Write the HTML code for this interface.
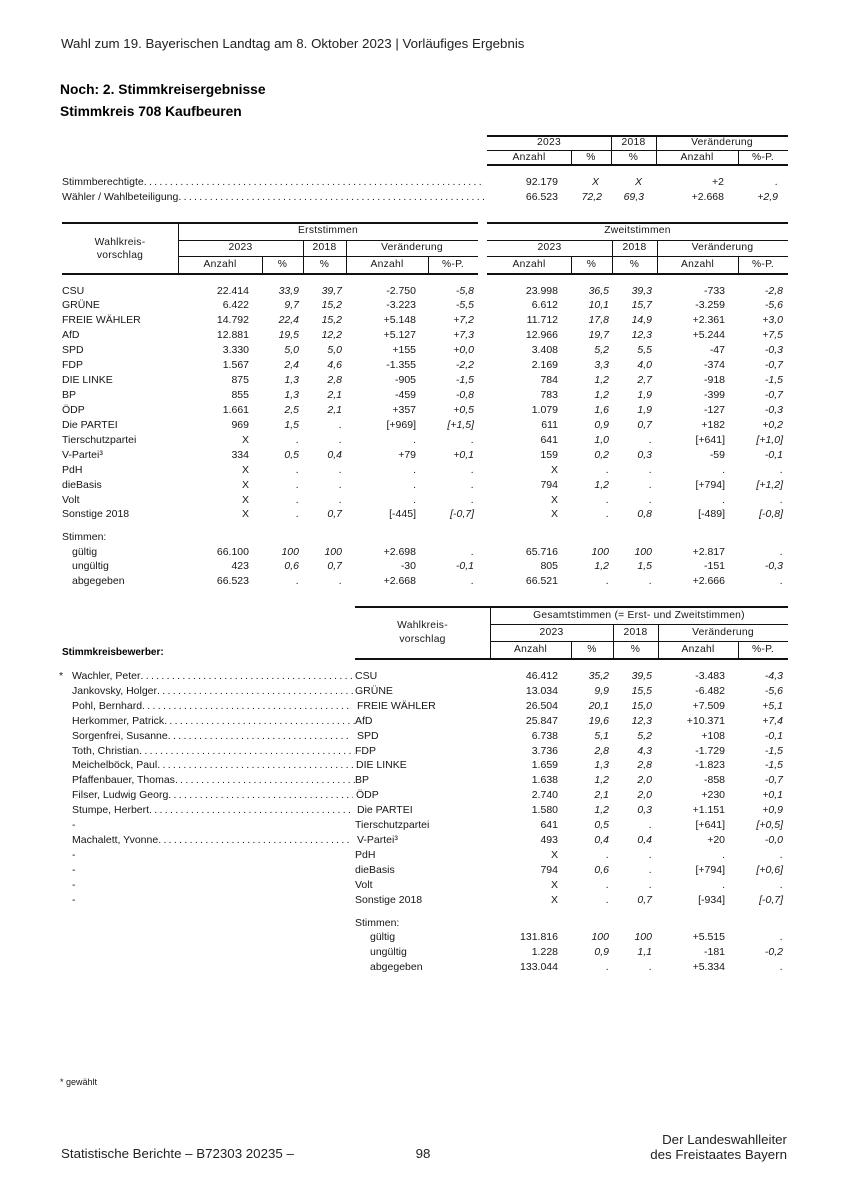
<!DOCTYPE html>
<html><head><meta charset="utf-8">
<style>
body{margin:0;width:848px;height:1200px;position:relative;background:#fff;font-family:"Liberation Sans",Arial,sans-serif;color:#161616;overflow:hidden}
.a{position:absolute;white-space:nowrap}
.h{position:absolute;background:#111}
.hc{position:absolute;text-align:center;font-size:10.3px;line-height:14px;letter-spacing:0.25px;white-space:nowrap}
.row{position:absolute;left:0;width:848px;height:14px;line-height:14px;font-size:10.5px}
.row span{position:absolute;top:0;white-space:nowrap}
.i{font-style:italic}
.l0{left:62px}.l1{left:72px}.p0{left:355px}.p1{left:370px}
.e1{right:599px}.e2{right:549px}.e3{right:506px}.e4{right:432px}.e5{right:374px}
.z1{right:290px}.z2{right:239px}.z3{right:196px}.z4{right:123px}.z5{right:65px}
.t1{right:290px}.t2{right:246px}.t3{right:204px}.t4{right:124px}.t5{right:70px}
.n{overflow:hidden}
.dd{letter-spacing:-0.3px}
</style></head><body>

<div class="a" style="left:61px;top:36.7px;font-size:13.3px;line-height:13.3px;color:#222">Wahl zum 19. Bayerischen Landtag am 8. Oktober 2023 | Vorläufiges Ergebnis</div>
<div class="a" style="left:60px;top:83px;font-size:13.8px;line-height:14px;font-weight:bold;color:#000">Noch: 2. Stimmkreisergebnisse</div>
<div class="a" style="left:60px;top:105px;font-size:13.8px;line-height:14px;font-weight:bold;color:#000">Stimmkreis 708 Kaufbeuren</div>

<!-- top table -->
<div class="h" style="left:487px;top:134.5px;width:301px;height:2px"></div>
<div class="h" style="left:487px;top:150px;width:301px;height:1px"></div>
<div class="h" style="left:487px;top:164px;width:301px;height:2px"></div>
<div class="h" style="left:611px;top:136px;width:1px;height:28px"></div>
<div class="h" style="left:656px;top:136px;width:1px;height:28px"></div>
<div class="h" style="left:571px;top:151px;width:1px;height:13px"></div>
<div class="h" style="left:738px;top:151px;width:1px;height:13px"></div>
<div class="hc" style="left:487px;width:124px;top:136px">2023</div>
<div class="hc" style="left:611px;width:45px;top:136px">2018</div>
<div class="hc" style="left:656px;width:132px;top:136px">Veränderung</div>
<div class="hc" style="left:487px;width:84px;top:150.5px">Anzahl</div>
<div class="hc" style="left:571px;width:40px;top:150.5px">%</div>
<div class="hc" style="left:611px;width:45px;top:150.5px">%</div>
<div class="hc" style="left:656px;width:82px;top:150.5px">Anzahl</div>
<div class="hc" style="left:738px;width:50px;top:150.5px">%-P.</div>

<div class="row" style="top:175px"><span class="l0 n" style="width:422px">Stimmberechtigte <span class="dd">. . . . . . . . . . . . . . . . . . . . . . . . . . . . . . . . . . . . . . . . . . . . . . . . . . . . . . . . . . . . . . . . . . . . . . . . . . . . . . . . . . . . . .</span></span><span class="t1">92.179</span><span class="i" style="left:592px">X</span><span class="i" style="left:635px">X</span><span class="t4">+2</span><span class="t5 i">.</span></div>
<div class="row" style="top:190px"><span class="l0 n" style="width:422px">Wähler / Wahlbeteiligung <span class="dd">. . . . . . . . . . . . . . . . . . . . . . . . . . . . . . . . . . . . . . . . . . . . . . . . . . . . . . . . . . . . . . . . . . . . . . . . . . . . . . . . . . . . . .</span></span><span class="t1">66.523</span><span class="t2 i">72,2</span><span class="t3 i">69,3</span><span class="t4">+2.668</span><span class="t5 i">+2,9</span></div>

<!-- Erst/Zweit table header -->
<div class="h" style="left:62px;top:222px;width:416px;height:2px"></div>
<div class="h" style="left:487px;top:222px;width:301px;height:2px"></div>
<div class="h" style="left:178px;top:239.5px;width:300px;height:1px"></div>
<div class="h" style="left:487px;top:239.5px;width:301px;height:1px"></div>
<div class="h" style="left:178px;top:256px;width:300px;height:1px"></div>
<div class="h" style="left:487px;top:256px;width:301px;height:1px"></div>
<div class="h" style="left:62px;top:273px;width:416px;height:2px"></div>
<div class="h" style="left:487px;top:273px;width:301px;height:2px"></div>
<div class="h" style="left:178px;top:224px;width:1px;height:49px"></div>
<div class="h" style="left:303px;top:240px;width:1px;height:33px"></div>
<div class="h" style="left:346px;top:240px;width:1px;height:33px"></div>
<div class="h" style="left:262px;top:257px;width:1px;height:16px"></div>
<div class="h" style="left:428px;top:257px;width:1px;height:16px"></div>
<div class="h" style="left:612px;top:240px;width:1px;height:33px"></div>
<div class="h" style="left:657px;top:240px;width:1px;height:33px"></div>
<div class="h" style="left:571px;top:257px;width:1px;height:16px"></div>
<div class="h" style="left:738px;top:257px;width:1px;height:16px"></div>

<div class="hc" style="left:62px;width:116px;top:235.5px;line-height:13px">Wahlkreis-<br>vorschlag</div>
<div class="hc" style="left:178px;width:300px;top:224px">Erststimmen</div>
<div class="hc" style="left:178px;width:125px;top:240.5px">2023</div>
<div class="hc" style="left:303px;width:43px;top:240.5px">2018</div>
<div class="hc" style="left:346px;width:132px;top:240.5px">Veränderung</div>
<div class="hc" style="left:178px;width:84px;top:257.5px">Anzahl</div>
<div class="hc" style="left:262px;width:41px;top:257.5px">%</div>
<div class="hc" style="left:303px;width:43px;top:257.5px">%</div>
<div class="hc" style="left:346px;width:82px;top:257.5px">Anzahl</div>
<div class="hc" style="left:428px;width:50px;top:257.5px">%-P.</div>
<div class="hc" style="left:487px;width:301px;top:224px">Zweitstimmen</div>
<div class="hc" style="left:487px;width:125px;top:240.5px">2023</div>
<div class="hc" style="left:612px;width:45px;top:240.5px">2018</div>
<div class="hc" style="left:657px;width:131px;top:240.5px">Veränderung</div>
<div class="hc" style="left:487px;width:84px;top:257.5px">Anzahl</div>
<div class="hc" style="left:571px;width:41px;top:257.5px">%</div>
<div class="hc" style="left:612px;width:45px;top:257.5px">%</div>
<div class="hc" style="left:657px;width:81px;top:257.5px">Anzahl</div>
<div class="hc" style="left:738px;width:50px;top:257.5px">%-P.</div>

<!-- Erst/Zweit rows -->
<div class="row" style="top:283.5px"><span class="l0">CSU</span><span class="e1">22.414</span><span class="e2 i">33,9</span><span class="e3 i">39,7</span><span class="e4">-2.750</span><span class="e5 i">-5,8</span><span class="z1">23.998</span><span class="z2 i">36,5</span><span class="z3 i">39,3</span><span class="z4">-733</span><span class="z5 i">-2,8</span></div>
<div class="row" style="top:298.4px"><span class="l0">GRÜNE</span><span class="e1">6.422</span><span class="e2 i">9,7</span><span class="e3 i">15,2</span><span class="e4">-3.223</span><span class="e5 i">-5,5</span><span class="z1">6.612</span><span class="z2 i">10,1</span><span class="z3 i">15,7</span><span class="z4">-3.259</span><span class="z5 i">-5,6</span></div>
<div class="row" style="top:313.4px"><span class="l0">FREIE WÄHLER</span><span class="e1">14.792</span><span class="e2 i">22,4</span><span class="e3 i">15,2</span><span class="e4">+5.148</span><span class="e5 i">+7,2</span><span class="z1">11.712</span><span class="z2 i">17,8</span><span class="z3 i">14,9</span><span class="z4">+2.361</span><span class="z5 i">+3,0</span></div>
<div class="row" style="top:328.3px"><span class="l0">AfD</span><span class="e1">12.881</span><span class="e2 i">19,5</span><span class="e3 i">12,2</span><span class="e4">+5.127</span><span class="e5 i">+7,3</span><span class="z1">12.966</span><span class="z2 i">19,7</span><span class="z3 i">12,3</span><span class="z4">+5.244</span><span class="z5 i">+7,5</span></div>
<div class="row" style="top:343.2px"><span class="l0">SPD</span><span class="e1">3.330</span><span class="e2 i">5,0</span><span class="e3 i">5,0</span><span class="e4">+155</span><span class="e5 i">+0,0</span><span class="z1">3.408</span><span class="z2 i">5,2</span><span class="z3 i">5,5</span><span class="z4">-47</span><span class="z5 i">-0,3</span></div>
<div class="row" style="top:358.1px"><span class="l0">FDP</span><span class="e1">1.567</span><span class="e2 i">2,4</span><span class="e3 i">4,6</span><span class="e4">-1.355</span><span class="e5 i">-2,2</span><span class="z1">2.169</span><span class="z2 i">3,3</span><span class="z3 i">4,0</span><span class="z4">-374</span><span class="z5 i">-0,7</span></div>
<div class="row" style="top:373.1px"><span class="l0">DIE LINKE</span><span class="e1">875</span><span class="e2 i">1,3</span><span class="e3 i">2,8</span><span class="e4">-905</span><span class="e5 i">-1,5</span><span class="z1">784</span><span class="z2 i">1,2</span><span class="z3 i">2,7</span><span class="z4">-918</span><span class="z5 i">-1,5</span></div>
<div class="row" style="top:388px"><span class="l0">BP</span><span class="e1">855</span><span class="e2 i">1,3</span><span class="e3 i">2,1</span><span class="e4">-459</span><span class="e5 i">-0,8</span><span class="z1">783</span><span class="z2 i">1,2</span><span class="z3 i">1,9</span><span class="z4">-399</span><span class="z5 i">-0,7</span></div>
<div class="row" style="top:402.9px"><span class="l0">ÖDP</span><span class="e1">1.661</span><span class="e2 i">2,5</span><span class="e3 i">2,1</span><span class="e4">+357</span><span class="e5 i">+0,5</span><span class="z1">1.079</span><span class="z2 i">1,6</span><span class="z3 i">1,9</span><span class="z4">-127</span><span class="z5 i">-0,3</span></div>
<div class="row" style="top:417.9px"><span class="l0">Die PARTEI</span><span class="e1">969</span><span class="e2 i">1,5</span><span class="e3 i">.</span><span class="e4">[+969]</span><span class="e5 i">[+1,5]</span><span class="z1">611</span><span class="z2 i">0,9</span><span class="z3 i">0,7</span><span class="z4">+182</span><span class="z5 i">+0,2</span></div>
<div class="row" style="top:432.8px"><span class="l0">Tierschutzpartei</span><span class="e1">X</span><span class="e2 i">.</span><span class="e3 i">.</span><span class="e4">.</span><span class="e5 i">.</span><span class="z1">641</span><span class="z2 i">1,0</span><span class="z3 i">.</span><span class="z4">[+641]</span><span class="z5 i">[+1,0]</span></div>
<div class="row" style="top:447.7px"><span class="l0">V-Partei³</span><span class="e1">334</span><span class="e2 i">0,5</span><span class="e3 i">0,4</span><span class="e4">+79</span><span class="e5 i">+0,1</span><span class="z1">159</span><span class="z2 i">0,2</span><span class="z3 i">0,3</span><span class="z4">-59</span><span class="z5 i">-0,1</span></div>
<div class="row" style="top:462.7px"><span class="l0">PdH</span><span class="e1">X</span><span class="e2 i">.</span><span class="e3 i">.</span><span class="e4">.</span><span class="e5 i">.</span><span class="z1">X</span><span class="z2 i">.</span><span class="z3 i">.</span><span class="z4">.</span><span class="z5 i">.</span></div>
<div class="row" style="top:477.6px"><span class="l0">dieBasis</span><span class="e1">X</span><span class="e2 i">.</span><span class="e3 i">.</span><span class="e4">.</span><span class="e5 i">.</span><span class="z1">794</span><span class="z2 i">1,2</span><span class="z3 i">.</span><span class="z4">[+794]</span><span class="z5 i">[+1,2]</span></div>
<div class="row" style="top:492.5px"><span class="l0">Volt</span><span class="e1">X</span><span class="e2 i">.</span><span class="e3 i">.</span><span class="e4">.</span><span class="e5 i">.</span><span class="z1">X</span><span class="z2 i">.</span><span class="z3 i">.</span><span class="z4">.</span><span class="z5 i">.</span></div>
<div class="row" style="top:507.4px"><span class="l0">Sonstige 2018</span><span class="e1">X</span><span class="e2 i">.</span><span class="e3 i">0,7</span><span class="e4">[-445]</span><span class="e5 i">[-0,7]</span><span class="z1">X</span><span class="z2 i">.</span><span class="z3 i">0,8</span><span class="z4">[-489]</span><span class="z5 i">[-0,8]</span></div>
<div class="row" style="top:530px"><span class="l0">Stimmen:</span></div>
<div class="row" style="top:544.7px"><span class="l1">gültig</span><span class="e1">66.100</span><span class="e2 i">100</span><span class="e3 i">100</span><span class="e4">+2.698</span><span class="e5 i">.</span><span class="z1">65.716</span><span class="z2 i">100</span><span class="z3 i">100</span><span class="z4">+2.817</span><span class="z5 i">.</span></div>
<div class="row" style="top:559.3px"><span class="l1">ungültig</span><span class="e1">423</span><span class="e2 i">0,6</span><span class="e3 i">0,7</span><span class="e4">-30</span><span class="e5 i">-0,1</span><span class="z1">805</span><span class="z2 i">1,2</span><span class="z3 i">1,5</span><span class="z4">-151</span><span class="z5 i">-0,3</span></div>
<div class="row" style="top:574px"><span class="l1">abgegeben</span><span class="e1">66.523</span><span class="e2 i">.</span><span class="e3 i">.</span><span class="e4">+2.668</span><span class="e5 i">.</span><span class="z1">66.521</span><span class="z2 i">.</span><span class="z3 i">.</span><span class="z4">+2.666</span><span class="z5 i">.</span></div>

<!-- bottom table header -->
<div class="h" style="left:355px;top:606px;width:433px;height:2px"></div>
<div class="h" style="left:490px;top:624px;width:298px;height:1px"></div>
<div class="h" style="left:490px;top:641px;width:298px;height:1px"></div>
<div class="h" style="left:355px;top:658px;width:433px;height:2px"></div>
<div class="h" style="left:490px;top:608px;width:1px;height:50px"></div>
<div class="h" style="left:613px;top:625px;width:1px;height:33px"></div>
<div class="h" style="left:658px;top:625px;width:1px;height:33px"></div>
<div class="h" style="left:571px;top:642px;width:1px;height:16px"></div>
<div class="h" style="left:738px;top:642px;width:1px;height:16px"></div>
<div class="hc" style="left:355px;width:135px;top:619px">Wahlkreis-<br>vorschlag</div>
<div class="hc" style="left:490px;width:298px;top:609px">Gesamtstimmen (= Erst- und Zweitstimmen)</div>
<div class="hc" style="left:490px;width:123px;top:626px">2023</div>
<div class="hc" style="left:613px;width:45px;top:626px">2018</div>
<div class="hc" style="left:658px;width:130px;top:626px">Veränderung</div>
<div class="hc" style="left:490px;width:81px;top:643px">Anzahl</div>
<div class="hc" style="left:571px;width:42px;top:643px">%</div>
<div class="hc" style="left:613px;width:45px;top:643px">%</div>
<div class="hc" style="left:658px;width:80px;top:643px">Anzahl</div>
<div class="hc" style="left:738px;width:50px;top:643px">%-P.</div>
<div class="a" style="left:62px;top:646px;font-size:10px;line-height:14px;font-weight:bold;color:#000">Stimmkreisbewerber:</div>

<!-- bottom rows -->
<div class="row" style="top:669px"><span style="left:59px">*</span><span class="l1 n" style="width:283px">Wachler, Peter <span class="dd">. . . . . . . . . . . . . . . . . . . . . . . . . . . . . . . . . . . . . . . . . . . . . . . . . . . . . .</span></span><span class="p0">CSU</span><span class="z1">46.412</span><span class="z2 i">35,2</span><span class="z3 i">39,5</span><span class="z4">-3.483</span><span class="z5 i">-4,3</span></div>
<div class="row" style="top:684px"><span class="l1 n" style="width:283px">Jankovsky, Holger <span class="dd">. . . . . . . . . . . . . . . . . . . . . . . . . . . . . . . . . . . . . . . . . . . . . . . . . . . . . .</span></span><span class="p0">GRÜNE</span><span class="z1">13.034</span><span class="z2 i">9,9</span><span class="z3 i">15,5</span><span class="z4">-6.482</span><span class="z5 i">-5,6</span></div>
<div class="row" style="top:699px"><span class="l1 n" style="width:280px">Pohl, Bernhard <span class="dd">. . . . . . . . . . . . . . . . . . . . . . . . . . . . . . . . . . . . . . . . . . . . . . . . . . . . . .</span></span><span style="left:357px">FREIE WÄHLER</span><span class="z1">26.504</span><span class="z2 i">20,1</span><span class="z3 i">15,0</span><span class="z4">+7.509</span><span class="z5 i">+5,1</span></div>
<div class="row" style="top:714px"><span class="l1 n" style="width:283px">Herkommer, Patrick <span class="dd">. . . . . . . . . . . . . . . . . . . . . . . . . . . . . . . . . . . . . . . . . . . . . . . . . . . . . .</span></span><span class="p0">AfD</span><span class="z1">25.847</span><span class="z2 i">19,6</span><span class="z3 i">12,3</span><span class="z4">+10.371</span><span class="z5 i">+7,4</span></div>
<div class="row" style="top:728.6px"><span class="l1 n" style="width:280px">Sorgenfrei, Susanne <span class="dd">. . . . . . . . . . . . . . . . . . . . . . . . . . . . . . . . . . . . . . . . . . . . . . . . . . . . . .</span></span><span style="left:357px">SPD</span><span class="z1">6.738</span><span class="z2 i">5,1</span><span class="z3 i">5,2</span><span class="z4">+108</span><span class="z5 i">-0,1</span></div>
<div class="row" style="top:743.5px"><span class="l1 n" style="width:283px">Toth, Christian <span class="dd">. . . . . . . . . . . . . . . . . . . . . . . . . . . . . . . . . . . . . . . . . . . . . . . . . . . . . .</span></span><span class="p0">FDP</span><span class="z1">3.736</span><span class="z2 i">2,8</span><span class="z3 i">4,3</span><span class="z4">-1.729</span><span class="z5 i">-1,5</span></div>
<div class="row" style="top:758.4px"><span class="l1 n" style="width:281px">Meichelböck, Paul <span class="dd">. . . . . . . . . . . . . . . . . . . . . . . . . . . . . . . . . . . . . . . . . . . . . . . . . . . . . .</span></span><span style="left:356px">DIE LINKE</span><span class="z1">1.659</span><span class="z2 i">1,3</span><span class="z3 i">2,8</span><span class="z4">-1.823</span><span class="z5 i">-1,5</span></div>
<div class="row" style="top:773.3px"><span class="l1 n" style="width:283px">Pfaffenbauer, Thomas <span class="dd">. . . . . . . . . . . . . . . . . . . . . . . . . . . . . . . . . . . . . . . . . . . . . . . . . . . . . .</span></span><span class="p0">BP</span><span class="z1">1.638</span><span class="z2 i">1,2</span><span class="z3 i">2,0</span><span class="z4">-858</span><span class="z5 i">-0,7</span></div>
<div class="row" style="top:788.2px"><span class="l1 n" style="width:281px">Filser, Ludwig Georg <span class="dd">. . . . . . . . . . . . . . . . . . . . . . . . . . . . . . . . . . . . . . . . . . . . . . . . . . . . . .</span></span><span style="left:356px">ÖDP</span><span class="z1">2.740</span><span class="z2 i">2,1</span><span class="z3 i">2,0</span><span class="z4">+230</span><span class="z5 i">+0,1</span></div>
<div class="row" style="top:803.1px"><span class="l1 n" style="width:280px">Stumpe, Herbert <span class="dd">. . . . . . . . . . . . . . . . . . . . . . . . . . . . . . . . . . . . . . . . . . . . . . . . . . . . . .</span></span><span style="left:357px">Die PARTEI</span><span class="z1">1.580</span><span class="z2 i">1,2</span><span class="z3 i">0,3</span><span class="z4">+1.151</span><span class="z5 i">+0,9</span></div>
<div class="row" style="top:818px"><span class="l1">-</span><span class="p0">Tierschutzpartei</span><span class="z1">641</span><span class="z2 i">0,5</span><span class="z3 i">.</span><span class="z4">[+641]</span><span class="z5 i">[+0,5]</span></div>
<div class="row" style="top:832.9px"><span class="l1 n" style="width:280px">Machalett, Yvonne <span class="dd">. . . . . . . . . . . . . . . . . . . . . . . . . . . . . . . . . . . . . . . . . . . . . . . . . . . . . .</span></span><span style="left:357px">V-Partei³</span><span class="z1">493</span><span class="z2 i">0,4</span><span class="z3 i">0,4</span><span class="z4">+20</span><span class="z5 i">-0,0</span></div>
<div class="row" style="top:847.8px"><span class="l1">-</span><span class="p0">PdH</span><span class="z1">X</span><span class="z2 i">.</span><span class="z3 i">.</span><span class="z4">.</span><span class="z5 i">.</span></div>
<div class="row" style="top:862.7px"><span class="l1">-</span><span class="p0">dieBasis</span><span class="z1">794</span><span class="z2 i">0,6</span><span class="z3 i">.</span><span class="z4">[+794]</span><span class="z5 i">[+0,6]</span></div>
<div class="row" style="top:877.6px"><span class="l1">-</span><span class="p0">Volt</span><span class="z1">X</span><span class="z2 i">.</span><span class="z3 i">.</span><span class="z4">.</span><span class="z5 i">.</span></div>
<div class="row" style="top:892.5px"><span class="l1">-</span><span class="p0">Sonstige 2018</span><span class="z1">X</span><span class="z2 i">.</span><span class="z3 i">0,7</span><span class="z4">[-934]</span><span class="z5 i">[-0,7]</span></div>
<div class="row" style="top:916px"><span class="p0">Stimmen:</span></div>
<div class="row" style="top:930px"><span class="p1">gültig</span><span class="z1">131.816</span><span class="z2 i">100</span><span class="z3 i">100</span><span class="z4">+5.515</span><span class="z5 i">.</span></div>
<div class="row" style="top:945px"><span class="p1">ungültig</span><span class="z1">1.228</span><span class="z2 i">0,9</span><span class="z3 i">1,1</span><span class="z4">-181</span><span class="z5 i">-0,2</span></div>
<div class="row" style="top:960px"><span class="p1">abgegeben</span><span class="z1">133.044</span><span class="z2 i">.</span><span class="z3 i">.</span><span class="z4">+5.334</span><span class="z5 i">.</span></div>

<!-- footnote & footer -->
<div class="a" style="left:60px;top:1076px;font-size:9px;line-height:12px">* gewählt</div>
<div class="a" style="left:61px;top:1147px;font-size:13.3px;line-height:14px;color:#222">Statistische Berichte – B72303 20235 –</div>
<div class="a" style="left:408px;top:1147px;width:30px;text-align:center;font-size:13.3px;line-height:14px;color:#222">98</div>
<div class="a" style="right:61px;top:1132px;text-align:right;font-size:13.3px;line-height:15px;color:#222">Der Landeswahlleiter<br>des Freistaates Bayern</div>

</body></html>
